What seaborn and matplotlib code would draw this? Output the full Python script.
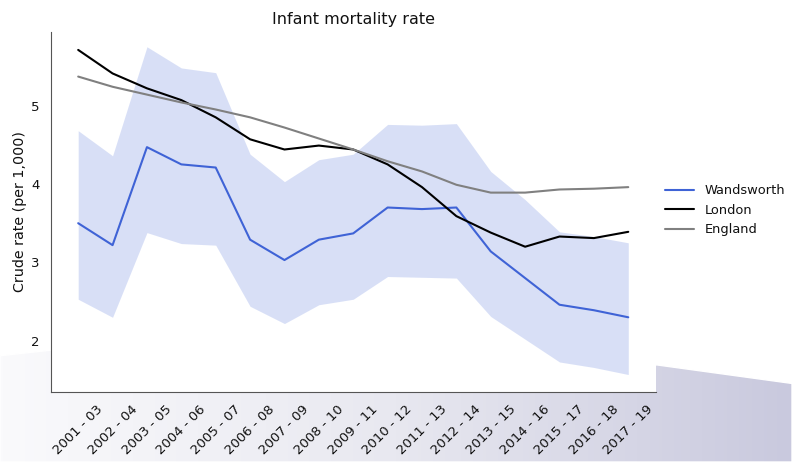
import numpy as np
import pandas as pd
import matplotlib
matplotlib.use("Agg")
import matplotlib.pyplot as plt
import seaborn as sns
from matplotlib.patches import Polygon

periods = ["2001 - 03", "2002 - 04", "2003 - 05", "2004 - 06", "2005 - 07", "2006 - 08",
           "2007 - 09", "2008 - 10", "2009 - 11", "2010 - 12", "2011 - 13", "2012 - 14",
           "2013 - 15", "2014 - 16", "2015 - 17", "2016 - 18", "2017 - 19"]
wandsworth = [3.50, 3.22, 4.47, 4.25, 4.21, 3.29, 3.03, 3.29, 3.37, 3.70, 3.68, 3.70,
              3.14, 2.80, 2.46, 2.39, 2.30]
wand_upper = [4.68, 4.36, 5.75, 5.48, 5.42, 4.38, 4.03, 4.31, 4.38, 4.76, 4.75, 4.77,
              4.16, 3.80, 3.39, 3.33, 3.25]
wand_lower = [2.53, 2.30, 3.38, 3.24, 3.22, 2.44, 2.22, 2.46, 2.53, 2.82, 2.81, 2.80,
              2.31, 2.02, 1.73, 1.66, 1.57]
london = [5.71, 5.41, 5.22, 5.07, 4.85, 4.57, 4.44, 4.49, 4.44, 4.25, 3.96, 3.59,
          3.38, 3.20, 3.33, 3.31, 3.39]
england = [5.37, 5.24, 5.14, 5.04, 4.95, 4.85, 4.72, 4.58, 4.44, 4.29, 4.16, 3.99,
           3.89, 3.89, 3.93, 3.94, 3.96]

areas = ["Wandsworth", "London", "England"]
colors = ["#3f63d6", "black", "#808080"]

df = pd.DataFrame({"Period": periods * 3,
                   "Area": np.repeat(areas, len(periods)),
                   "Rate": wandsworth + london + england})

sns.set_style("white")
fig = plt.figure(figsize=(7.92, 4.62), dpi=100)

# slide background decoration
bg = fig.add_axes([0, 0, 1, 1], zorder=-10)
bg.set_xlim(0, 1)
bg.set_ylim(0, 1)
bg.axis("off")
grad = np.linspace(0, 1, 256).reshape(1, -1)
img = bg.imshow(grad, extent=[0, 1, 0, 0.3], aspect="auto",
                cmap=matplotlib.colors.LinearSegmentedColormap.from_list(
                    "bgc", ["#fafafc", "#e8e8f0", "#c9c9de"]))
wedge = Polygon([[0.0, 0.0], [0.0, 0.23], [0.08, 0.245], [0.83, 0.21], [1.0, 0.17],
                 [1.0, 0.0]], closed=True, transform=bg.transData, facecolor="none")
bg.add_patch(wedge)
img.set_clip_path(wedge)

ax = fig.add_axes([0.064, 0.152, 0.764, 0.779])
ax.set_facecolor("white")
ax.fill_between(np.arange(len(periods)), wand_lower, wand_upper,
                color="#3f63d6", alpha=0.2, linewidth=0)
sns.lineplot(data=df, x="Period", y="Rate", hue="Area", palette=colors,
             linewidth=1.5, ax=ax, sort=False)

ax.set_ylim(1.35, 5.94)
ax.set_yticks([2, 3, 4, 5])
ax.set_title("Infant mortality rate", fontsize=11.5, color="#111111")
ax.set_xlabel("")
ax.set_ylabel("Crude rate (per 1,000)", fontsize=10.3, color="#111111", labelpad=3)
ax.tick_params(axis="both", labelsize=9.5, length=0, labelcolor="#111111")
ax.tick_params(axis="x", pad=8)
ax.tick_params(axis="y", pad=8)
plt.setp(ax.get_xticklabels(), rotation=45, ha="center")
sns.despine(ax=ax)
for s in ["left", "bottom"]:
    ax.spines[s].set_color("#555555")

ax.legend(title=None, frameon=False, loc="center left",
          bbox_to_anchor=(0.825, 0.545), bbox_transform=fig.transFigure,
          fontsize=9.4, handlelength=2.2, labelcolor="#111111")

fig.savefig("out.png", dpi=100)
